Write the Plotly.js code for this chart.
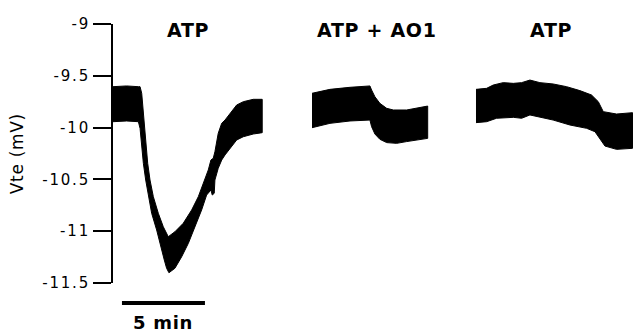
<!DOCTYPE html>
<html>
<head>
<meta charset="utf-8">
<script src="https://cdn.plot.ly/plotly-3.0.1.min.js"></script>
<style>
  html, body { margin: 0; padding: 0; background: #fff; }
  #chart { width: 633px; height: 332px; }
  .ytick text { letter-spacing: 1.8px; }
  .annotation-text { letter-spacing: 0.7px; }
</style>
</head>
<body>
<div id="chart"></div>
<script>
// Time in minutes, voltage in mV (upper / lower envelope of the oscillating trace)
const seg1Time_upper = [0, 0.82, 1.53, 1.63, 1.73, 1.83, 1.89, 1.97, 2.09, 2.23, 2.43, 2.73, 3.03, 3.33, 3.73, 4.23, 4.74, 5.14, 5.54, 5.74, 5.9, 6.04, 6.14, 6.34, 6.55, 6.75, 7.45, 7.85, 8.45, 8.99];
const seg1Upper      = [-9.605, -9.598, -9.605, -9.605, -9.669, -9.862, -10.023, -10.184, -10.345, -10.506, -10.667, -10.827, -10.957, -11.053, -11.005, -10.924, -10.795, -10.667, -10.506, -10.409, -10.313, -10.296, -10.233, -10.055, -9.958, -9.927, -9.782, -9.75, -9.727, -9.727];
const seg1Time_lower = [0, 0.82, 1.53, 1.63, 1.73, 1.83, 1.97, 2.13, 2.33, 2.63, 2.89, 3.09, 3.23, 3.37, 3.73, 4.14, 4.54, 4.94, 5.34, 5.64, 5.9, 5.98, 6.1, 6.14, 6.34, 6.55, 6.75, 7.45, 7.85, 8.45, 8.99];
const seg1Lower      = [-9.943, -9.936, -9.943, -10.007, -10.184, -10.345, -10.506, -10.667, -10.827, -10.988, -11.15, -11.278, -11.358, -11.401, -11.358, -11.246, -11.117, -10.957, -10.795, -10.651, -10.602, -10.651, -10.634, -10.506, -10.393, -10.313, -10.264, -10.12, -10.088, -10.062, -10.049];

const seg2Time_upper = [11.99, 13.07, 14.28, 15.48, 15.58, 15.78, 16.08, 16.49, 16.89, 17.69, 18.96];
const seg2Upper      = [-9.669, -9.631, -9.611, -9.598, -9.637, -9.702, -9.766, -9.814, -9.83, -9.83, -9.792];
const seg2Time_lower = [11.99, 13.07, 14.28, 15.48, 15.58, 15.78, 16.08, 16.49, 17.09, 17.69, 18.96];
const seg2Lower      = [-10.001, -9.959, -9.936, -9.927, -9.991, -10.062, -10.113, -10.145, -10.152, -10.135, -10.104];

const seg3Time_upper = [21.87, 22.51, 22.91, 23.51, 24.12, 24.62, 25.12, 25.72, 26.52, 27.33, 28.13, 28.83, 29.24, 29.54, 30.34, 31.3];
const seg3Upper      = [-9.631, -9.621, -9.589, -9.566, -9.573, -9.566, -9.541, -9.566, -9.579, -9.605, -9.643, -9.685, -9.75, -9.846, -9.869, -9.856];
const seg3Time_lower = [21.87, 22.51, 23.11, 24.12, 24.62, 25.12, 25.72, 26.52, 27.53, 28.54, 29.04, 29.34, 29.64, 30.34, 31.3];
const seg3Lower      = [-9.952, -9.943, -9.91, -9.901, -9.91, -9.878, -9.901, -9.927, -9.975, -10.007, -10.04, -10.104, -10.178, -10.21, -10.2];

const conditionLabels = ['ATP', 'ATP + AO1', 'ATP'];
const conditionLabelTimes = [4.52, 15.9, 26.4];
const yTickValues = [-9, -9.5, -10, -10.5, -11, -11.5];
const yTickLabels = ['-9', '-9.5', '-10', '-10.5', '-11', '-11.5'];
const yAxisLabel = 'Vte (mV)';
const scaleBarStart = 0.54;
const scaleBarMinutes = 5;
const scaleBarLabel = '5 min';

const FONT = 'DejaVu Sans, Arial, sans-serif';

function band(tu, u, tl, l) {
  return {
    x: tu.concat(tl.slice().reverse()),
    y: u.concat(l.slice().reverse()),
    type: 'scatter', mode: 'lines', fill: 'toself',
    fillcolor: '#000', line: {color: '#000', width: 1},
    hoverinfo: 'skip', showlegend: false
  };
}

const data = [
  band(seg1Time_upper, seg1Upper, seg1Time_lower, seg1Lower),
  band(seg2Time_upper, seg2Upper, seg2Time_lower, seg2Lower),
  band(seg3Time_upper, seg3Upper, seg3Time_lower, seg3Lower)
];

const annotations = conditionLabels.map((t, i) => ({
  x: conditionLabelTimes[i], xref: 'x', y: 0.977, yref: 'paper',
  text: '<b>' + t + '</b>', showarrow: false, xanchor: 'center', yanchor: 'middle',
  font: {family: FONT, size: 19, color: '#000'}
}));
annotations.push({
  x: scaleBarStart + scaleBarMinutes / 2, xref: 'x', y: -0.152, yref: 'paper',
  text: '<b>' + scaleBarLabel + '</b>', showarrow: false, xanchor: 'center', yanchor: 'middle',
  font: {family: FONT, size: 18, color: '#000'}
});
annotations.push({
  x: -0.185, xref: 'paper', y: 0.5, yref: 'paper',
  text: yAxisLabel, textangle: -90, showarrow: false, xanchor: 'center', yanchor: 'middle',
  font: {family: FONT, size: 17, color: '#000'}
});

const layout = {
  width: 633, height: 332,
  margin: {l: 113, r: 0, t: 24, b: 49, pad: 0},
  paper_bgcolor: '#fff', plot_bgcolor: '#fff',
  showlegend: false,
  xaxis: {range: [0, 31.33], visible: false, fixedrange: true},
  yaxis: {
    range: [-11.5, -9], showgrid: false, zeroline: false,
    showline: true, linecolor: '#000', linewidth: 2,
    ticks: 'outside', ticklen: 18, tickwidth: 2, tickcolor: '#000',
    tickvals: yTickValues, ticktext: yTickLabels,
    tickfont: {family: FONT, size: 15, color: '#000'},
    fixedrange: true
  },
  shapes: [{
    type: 'line', xref: 'x', yref: 'paper',
    x0: scaleBarStart, x1: scaleBarStart + scaleBarMinutes, y0: -0.077, y1: -0.077,
    line: {color: '#000', width: 4}
  }],
  annotations: annotations
};

Plotly.newPlot('chart', data, layout, {displayModeBar: false, staticPlot: true});
</script>
</body>
</html>
